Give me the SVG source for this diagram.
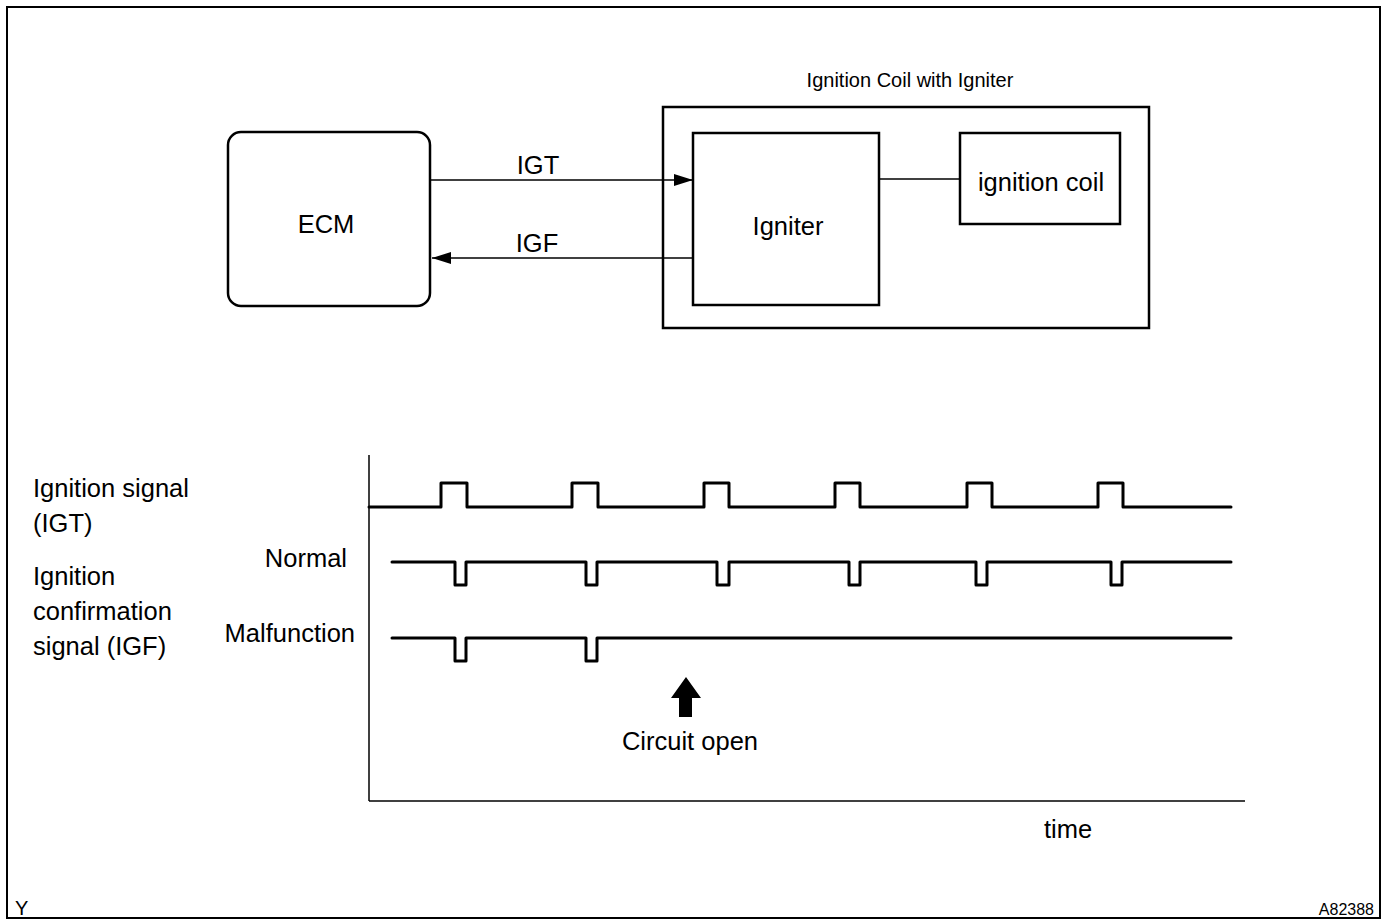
<svg xmlns="http://www.w3.org/2000/svg" width="1388" height="920" viewBox="0 0 1388 920">
<style>
text{font-family:"Liberation Sans",Arial,sans-serif;fill:#000}
.lbl{font-size:25.5px}
.box{fill:#fff;stroke:#000;stroke-width:2.5}
.thin{stroke:#000;stroke-width:1.3;fill:none}
.sig{stroke:#000;stroke-width:3;fill:none;stroke-linejoin:round;stroke-linecap:round}
</style>
<defs>
<marker id="ah" viewBox="0 0 19 12" refX="19" refY="6" markerWidth="19" markerHeight="12" markerUnits="userSpaceOnUse" orient="auto">
<path d="M0,0 L19,6 L0,12 Z" fill="#000"/>
</marker>
</defs>
<rect x="0" y="0" width="1388" height="920" fill="#fff"/>
<rect x="7" y="7" width="1373" height="911" fill="none" stroke="#000" stroke-width="2"/>

<g id="ecm">
<rect class="box" x="228" y="132" width="202" height="174" rx="13"/>
<text class="lbl" x="326" y="233" text-anchor="middle">ECM</text>
</g>
<g id="coil-assembly">
<rect class="box" x="663" y="107" width="486" height="221"/>
<text x="910" y="87" font-size="20" text-anchor="middle">Ignition Coil with Igniter</text>
</g>
<g id="igniter">
<rect class="box" x="693" y="133" width="186" height="172"/>
<text class="lbl" x="788" y="235" text-anchor="middle">Igniter</text>
</g>
<g id="ignition-coil">
<rect class="box" x="960" y="133" width="160" height="91"/>
<text class="lbl" x="1041" y="191" text-anchor="middle">ignition coil</text>
</g>

<g id="connectors">
<line class="thin" x1="430" y1="180" x2="693" y2="180" marker-end="url(#ah)"/>
<text class="lbl" x="538" y="174" text-anchor="middle">IGT</text>
<line class="thin" x1="693" y1="258" x2="432" y2="258" marker-end="url(#ah)"/>
<text class="lbl" x="537" y="252" text-anchor="middle">IGF</text>
<line class="thin" x1="879" y1="179" x2="960" y2="179"/>
</g>

<g id="timing-chart">
<line x1="369" y1="455" x2="369" y2="801" stroke="#000" stroke-width="1.5"/>
<line x1="369" y1="801" x2="1245" y2="801" stroke="#000" stroke-width="1.5"/>
<path class="sig" d="M369,507 H441 V483 H467 V507 H572 V483 H598 V507 H704 V483 H729 V507 H835 V483 H860 V507 H967 V483 H992 V507 H1098 V483 H1123 V507 H1231"/>
<path class="sig" d="M392,562 H455 V585 H466 V562 H586 V585 H597 V562 H717 V585 H729 V562 H849 V585 H860 V562 H976 V585 H987 V562 H1111 V585 H1122 V562 H1231"/>
<path class="sig" d="M392,638 H455 V661 H466 V638 H586 V661 H597 V638 H1231"/>
<text class="lbl" x="33" y="497">Ignition signal</text>
<text class="lbl" x="33" y="532">(IGT)</text>
<text class="lbl" x="33" y="585">Ignition</text>
<text class="lbl" x="33" y="620">confirmation</text>
<text class="lbl" x="33" y="655">signal (IGF)</text>
<text class="lbl" x="347" y="567" text-anchor="end">Normal</text>
<text class="lbl" x="355" y="642" text-anchor="end">Malfunction</text>
<path d="M686,677 L701,698 L692,698 L692,717 L679,717 L679,698 L671,698 Z" fill="#000"/>
<text class="lbl" x="690" y="750" text-anchor="middle">Circuit open</text>
<text class="lbl" x="1068" y="838" text-anchor="middle">time</text>
</g>

<text x="15" y="915" font-size="20">Y</text>
<text x="1374" y="915" font-size="16" text-anchor="end">A82388</text>
</svg>
